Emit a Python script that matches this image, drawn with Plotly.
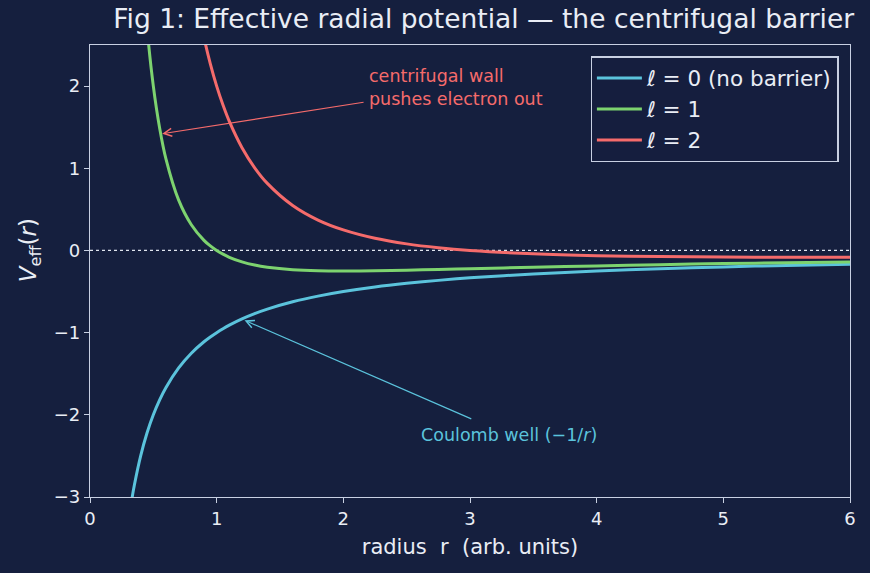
import plotly.graph_objects as go

# radius samples (arb. units)
r = [0.30, 0.333, 0.35, 0.40, 0.45, 0.50, 0.55, 0.60, 0.70, 0.80, 0.90, 0.95, 1.00, 1.05, 1.10,
     1.20, 1.30, 1.40, 1.60, 1.80, 2.00, 2.25, 2.50, 2.75, 3.00, 3.50, 4.00, 4.50, 5.00, 5.50, 6.00]

# effective potential values
v_l0 = [-3.333, -3.003, -2.857, -2.500, -2.222, -2.000, -1.818, -1.667, -1.429, -1.250, -1.111, -1.053,
        -1.000, -0.952, -0.909, -0.833, -0.769, -0.714, -0.625, -0.556, -0.500, -0.444, -0.400, -0.364,
        -0.333, -0.286, -0.250, -0.222, -0.200, -0.182, -0.167]
v_l1 = [7.778, 6.015, 5.306, 3.750, 2.716, 2.000, 1.488, 1.111, 0.612, 0.313, 0.123, 0.055,
        0.000, -0.045, -0.083, -0.139, -0.178, -0.204, -0.234, -0.247, -0.250, -0.247, -0.240, -0.231,
        -0.222, -0.204, -0.188, -0.173, -0.160, -0.149, -0.139]
v_l2 = [30.00, 24.05, 21.63, 16.25, 12.59, 10.00, 8.099, 6.667, 4.694, 3.438, 2.593, 2.271,
        2.000, 1.769, 1.570, 1.250, 1.006, 0.816, 0.547, 0.370, 0.250, 0.148, 0.080, 0.033,
        0.000, -0.041, -0.063, -0.074, -0.080, -0.083, -0.083]

names = ["<i>ℓ</i> = 0 (no barrier)", "<i>ℓ</i> = 1", "<i>ℓ</i> = 2"]
colors = ["#5bc3dc", "#7dd36f", "#f56b6b"]

BG = "#151f3e"
FG = "#e9edf5"
SPINE = "#c8d0e2"
FONT = "DejaVu Sans"

fig = go.Figure()
for vals, name, col in zip([v_l0, v_l1, v_l2], names, colors):
    fig.add_trace(go.Scatter(x=r, y=vals, mode="lines", name=name,
                             line=dict(color=col, width=3, shape="spline", smoothing=0.8)))

# dotted zero line
fig.add_shape(type="line", xref="x", yref="y", x0=0, x1=6, y0=0, y1=0,
              line=dict(color="#dfe4ee", width=1.2, dash="dot"), layer="below")

# annotations with arrows (text centred at ax, ay; arrow points to x, y)
fig.add_annotation(x=0.57, y=1.42, ax=2.89, ay=1.98, xref="x", yref="y", axref="x", ayref="y",
                   text="centrifugal wall<br>pushes electron out", align="left",
                   showarrow=True, arrowhead=5, arrowsize=1.3, arrowwidth=1.2,
                   arrowcolor="#f56b6b", borderpad=5,
                   font=dict(family=FONT, size=17.5, color="#f56b6b"))
fig.add_annotation(x=1.22, y=-0.85, ax=3.31, ay=-2.25, xref="x", yref="y", axref="x", ayref="y",
                   text="Coulomb well (−1/<i>r</i>)",
                   showarrow=True, arrowhead=5, arrowsize=1.3, arrowwidth=1.2,
                   arrowcolor="#5bc3dc", borderpad=6,
                   font=dict(family=FONT, size=17.5, color="#5bc3dc"))

# y-axis label
fig.add_annotation(x=-0.079, y=0.546, xref="paper", yref="paper", xanchor="center", yanchor="middle",
                   text="<i>V</i><sub>eff</sub>(<i>r</i>)", showarrow=False, textangle=-90,
                   font=dict(family=FONT, size=23, color=FG))

axis_common = dict(showline=True, linecolor=SPINE, linewidth=1.3, mirror=True,
                   ticks="outside", ticklen=5, tickcolor=SPINE, tickwidth=1.3,
                   showgrid=False, zeroline=False,
                   tickfont=dict(family=FONT, size=18, color=FG))

fig.update_layout(
    width=870, height=573,
    paper_bgcolor=BG, plot_bgcolor=BG,
    margin=dict(l=90, r=20, t=45, b=76),
    title=dict(text="Fig 1: Effective radial potential — the centrifugal barrier",
               x=0.518, xanchor="center", xref="paper", y=1, yref="container", yanchor="top",
               pad=dict(t=9),
               font=dict(family=FONT, size=26.5, color=FG)),
    xaxis=dict(range=[0, 6], tickvals=[0, 1, 2, 3, 4, 5, 6],
               title=dict(text="radius\u00a0\u00a0r\u00a0\u00a0(arb. units)", standoff=11,
                          font=dict(family=FONT, size=21, color=FG)),
               **axis_common),
    yaxis=dict(range=[-3, 2.5], tickvals=[-3, -2, -1, 0, 1, 2],
               ticktext=["−3", "−2", "−1", "0", "1", "2"],
               **axis_common),
    legend=dict(x=0.985, y=0.975, xanchor="right", yanchor="top",
                bgcolor="rgba(21,31,62,0.85)", bordercolor=SPINE, borderwidth=1.3,
                font=dict(family=FONT, size=21.5, color=FG),
                itemwidth=45, tracegroupgap=2),
    showlegend=True,
)

fig.write_html("out.html")
